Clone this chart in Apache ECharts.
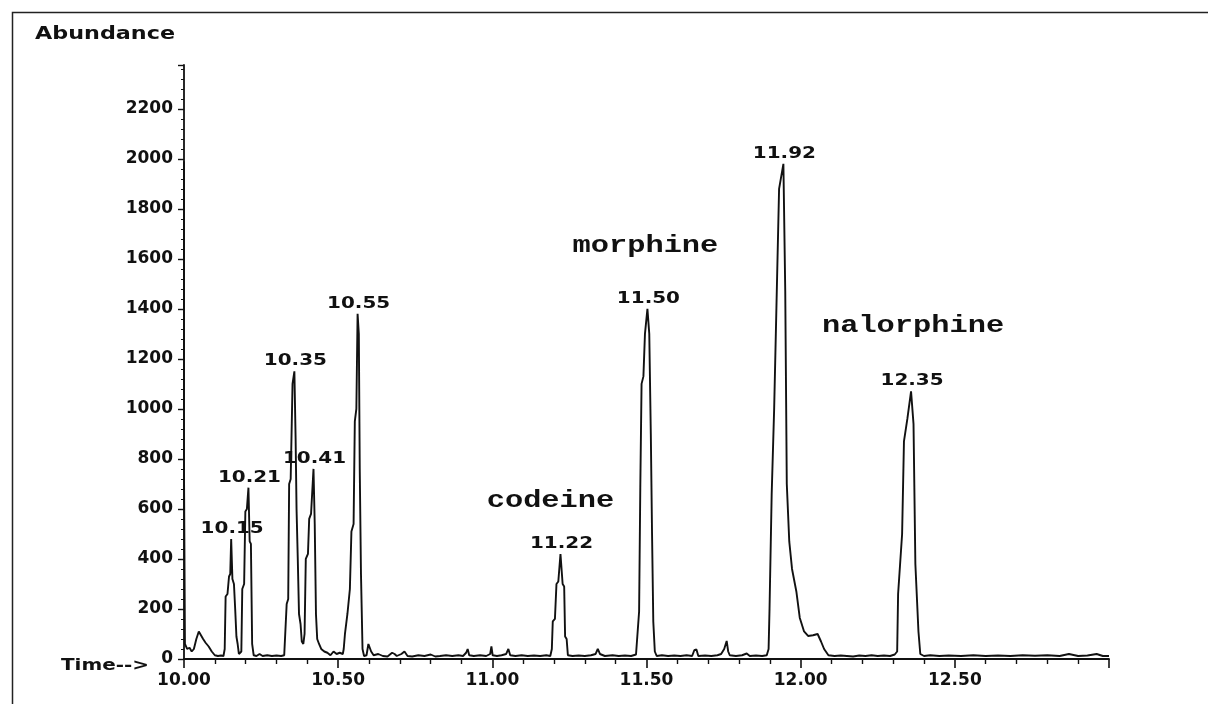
<!DOCTYPE html>
<html><head><meta charset="utf-8">
<script src="https://cdn.jsdelivr.net/npm/echarts@6/dist/echarts.min.js"></script>
<style>html,body{margin:0;padding:0;background:#fff}#c{width:1208px;height:704px}</style>
</head><body><div id="c"></div>
<script>
// Total ion chromatogram trace: [time (min), abundance]
const chromatogram = [
  [10.000,1990],[10.000,750],[10.003,60],[10.010,40],[10.018,45],[10.025,30],[10.032,40],[10.040,80],
  [10.048,110],[10.055,95],[10.062,80],[10.070,65],[10.080,50],[10.090,30],[10.100,15],[10.110,12],
  [10.120,14],[10.128,12],
  [10.132,40],[10.135,250],[10.141,260],[10.146,330],[10.150,340],[10.153,480],[10.157,320],[10.162,300],
  [10.166,200],[10.170,90],[10.174,60],[10.178,20],[10.182,15],
  [10.186,30],[10.189,280],[10.195,300],[10.199,590],[10.204,600],[10.209,685],[10.213,470],[10.217,460],
  [10.221,60],[10.226,15],[10.235,12],[10.245,20],[10.255,12],[10.270,15],[10.285,12],[10.300,14],
  [10.315,12],[10.325,15],
  [10.330,20],[10.333,220],[10.338,240],[10.341,700],[10.346,720],[10.352,1100],[10.358,1150],[10.362,880],
  [10.365,600],[10.369,400],[10.373,180],[10.378,140],[10.382,70],[10.387,60],
  [10.391,100],[10.395,400],[10.402,420],[10.406,560],[10.412,580],[10.420,760],[10.424,540],[10.428,180],
  [10.432,80],[10.438,60],[10.445,40],[10.455,30],[10.465,25],[10.475,15],[10.485,30],[10.495,20],
  [10.505,25],[10.515,20],
  [10.518,40],[10.522,100],[10.530,180],[10.538,280],[10.543,510],[10.550,540],[10.554,950],[10.559,1000],
  [10.563,1380],[10.567,1300],[10.570,760],[10.574,340],[10.579,40],[10.584,12],[10.592,15],[10.598,60],
  [10.602,65],[10.607,30],[10.615,15],[10.630,20],[10.645,12],[10.660,10],[10.675,25],[10.683,20],
  [10.690,12],[10.705,20],[10.715,30],[10.725,12],[10.740,10],[10.760,15],[10.780,12],[10.800,18],
  [10.815,10],[10.830,12],[10.850,15],[10.870,12],[10.890,15],[10.905,12],[10.915,25],[10.920,40],
  [10.925,15],[10.940,12],[10.960,15],[10.980,12],[10.993,20],[10.997,50],[11.001,15],[11.015,12],
  [11.030,15],[11.045,20],[11.052,40],[11.058,15],[11.075,12],[11.095,15],[11.115,12],[11.135,14],
  [11.155,12],[11.175,15],[11.188,12],
  [11.193,40],[11.196,150],[11.203,160],[11.208,300],[11.214,310],[11.221,420],[11.228,300],[11.233,290],
  [11.236,90],[11.241,80],[11.245,15],[11.260,12],[11.280,14],[11.300,12],[11.320,15],[11.335,20],
  [11.342,40],[11.349,20],[11.365,12],[11.390,15],[11.410,12],[11.430,14],[11.450,12],[11.466,18],
  [11.472,20],[11.476,190],[11.480,700],[11.484,1100],[11.490,1130],[11.495,1300],[11.503,1400],[11.509,1300],
  [11.514,900],[11.518,500],[11.522,150],[11.527,30],[11.533,12],[11.550,15],[11.570,12],[11.590,14],
  [11.610,12],[11.630,15],[11.648,12],[11.655,35],[11.662,38],[11.668,12],[11.690,14],[11.710,12],
  [11.730,15],[11.742,20],[11.752,40],[11.760,72],[11.765,30],[11.770,15],[11.790,12],[11.810,15],
  [11.825,22],[11.835,12],[11.855,14],[11.875,12],[11.890,15],
  [11.896,40],[11.899,200],[11.906,660],[11.914,1000],[11.922,1440],[11.930,1880],[11.944,1980],[11.950,1470],
  [11.955,700],[11.963,470],[11.972,360],[11.986,270],[11.997,165],[12.011,110],[12.024,92],[12.040,95],
  [12.055,100],[12.066,70],[12.076,40],[12.090,15],[12.110,12],[12.130,14],[12.150,12],[12.170,10],
  [12.190,14],[12.210,12],[12.230,15],[12.250,12],[12.270,14],[12.290,12],[12.305,18],
  [12.313,30],[12.316,260],[12.329,500],[12.335,870],[12.346,960],[12.358,1070],[12.366,940],[12.372,380],
  [12.382,110],[12.388,20],[12.400,12],[12.420,15],[12.450,12],[12.480,14],[12.520,12],[12.560,15],
  [12.600,12],[12.640,14],[12.680,12],[12.720,15],[12.760,13],[12.800,15],[12.840,12],[12.870,20],
  [12.900,12],[12.930,14],[12.960,20],[12.980,12],[13.000,12]
];

// Peak annotations
const peakTimes  = [10.153, 10.209, 10.358, 10.420, 10.563, 11.221, 11.503, 11.944, 12.358];
const peakLabels = ['10.15','10.21','10.35','10.41','10.55','11.22','11.50','11.92','12.35'];
const compoundNames = ['codeine', 'morphine', 'nalorphine'];
const compoundPeaks = ['11.22', '11.50', '12.35'];

// Axis ticks
const yTickStep = 200;
const xTickLabels = ['10.00','10.50','11.00','11.50','12.00','12.50'];

// layout (pixel offsets for the compound names relative to their peak label)
const nameOffsets = { 'codeine': [-11, -43], 'morphine': [-3, -53], 'nalorphine': [1, -55] };

const chart = echarts.init(document.getElementById('c'), null, { renderer: 'canvas' });
const INK = '#111';
const sansBold = '"DejaVu Sans", "Liberation Sans", sans-serif';

chart.setOption({
  animation: false,
  backgroundColor: '#fff',
  grid: { left: 184, right: 99, top: 65, bottom: 45 },
  xAxis: {
    type: 'value', min: 10, max: 13, interval: 0.5,
    axisLine: { lineStyle: { color: INK, width: 1.8 } },
    axisTick: { show: true, length: 9, lineStyle: { color: INK, width: 1.6 } },
    minorTick: { show: true, splitNumber: 5, length: 5, lineStyle: { color: INK, width: 1.4 } },
    splitLine: { show: false },
    axisLabel: {
      color: INK, fontFamily: sansBold, fontWeight: 'bold', fontSize: 17, margin: 13,
      formatter: v => { const s = v.toFixed(2); return xTickLabels.indexOf(s) >= 0 ? s : ''; }
    }
  },
  yAxis: {
    type: 'value', min: 0, max: 2375, interval: yTickStep,
    axisLine: { show: true, lineStyle: { color: INK, width: 1.8 } },
    axisTick: { show: true, length: 6, lineStyle: { color: INK, width: 1.4 } },
    minorTick: { show: true, splitNumber: 5, length: 3, lineStyle: { color: INK, width: 1 } },
    splitLine: { show: false },
    axisLabel: {
      color: INK, fontFamily: sansBold, fontWeight: 'bold', fontSize: 17, margin: 11,
      formatter: v => (v % yTickStep === 0 ? String(v) : '')
    }
  },
  series: [{
    type: 'line', data: chromatogram, showSymbol: false, smooth: false, sampling: 'none',
    lineStyle: { color: INK, width: 1.9 }, z: 3
  }]
});

function apexNear(t) {
  let best = 0;
  chromatogram.forEach(p => { if (Math.abs(p[0] - t) < 0.006 && p[1] > best) best = p[1]; });
  return best;
}

const graphics = [];
graphics.push({
  type: 'polyline', silent: true,
  shape: { points: [[12.5, 704], [12.5, 12.5], [1208, 12.5]] },
  style: { stroke: '#222', lineWidth: 1.5, fill: null }
});
function txt(text, x, y, font, sx, align) {
  return {
    type: 'text', x: x, y: y, scaleX: sx, silent: true, z: 10,
    style: { text: text, font: font, fill: INK, align: align || 'center', verticalAlign: 'middle',
             textAlign: align || 'center', textVerticalAlign: 'middle' }
  };
}
graphics.push(txt('Abundance', 35, 35, 'bold 17px ' + sansBold, 1.31, 'left'));
const origin = chart.convertToPixel({ xAxisIndex: 0, yAxisIndex: 0 }, [10, 0]);
graphics.push(txt('Time-->', origin[0] - 79, origin[1] + 7, 'bold 15px ' + sansBold, 1.33));

const labelPos = {};
peakTimes.forEach((t, i) => {
  const p = chart.convertToPixel({ xAxisIndex: 0, yAxisIndex: 0 }, [t, apexNear(t)]);
  const pos = [p[0] + 1, p[1] - 10];
  labelPos[peakLabels[i]] = pos;
  graphics.push(txt(peakLabels[i], pos[0], pos[1], 'bold 15px ' + sansBold, 1.33));
});
compoundNames.forEach((n, i) => {
  const lp = labelPos[compoundPeaks[i]];
  const off = nameOffsets[n];
  graphics.push(txt(n, lp[0] + off[0], lp[1] + off[1],
    'bold 23px "Liberation Mono", "DejaVu Sans Mono", monospace', 1.32));
});
chart.setOption({ graphic: graphics });
</script>
</body></html>
